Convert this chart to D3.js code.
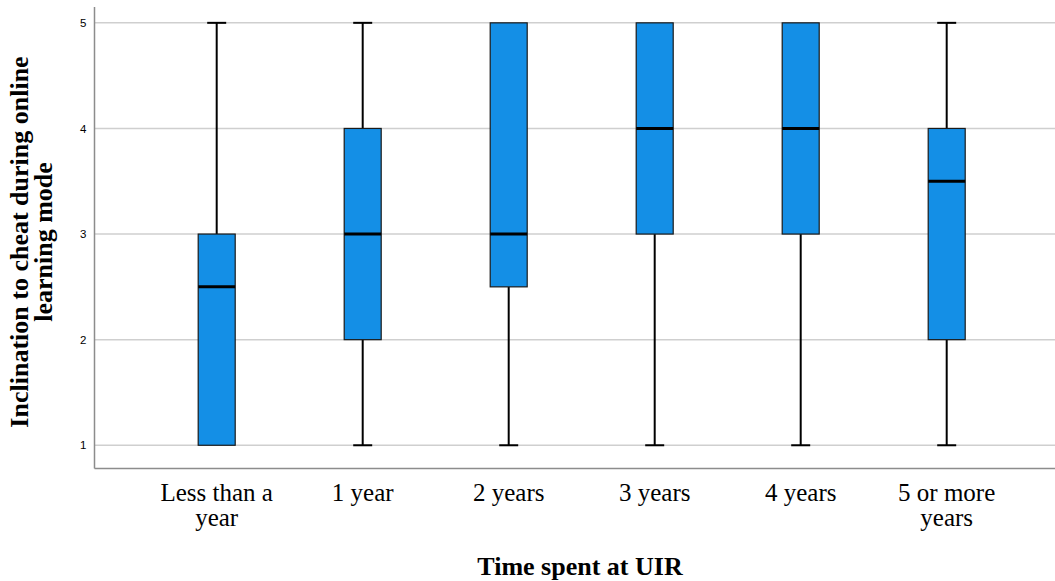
<!DOCTYPE html>
<html>
<head>
<meta charset="utf-8">
<script src="https://cdn.jsdelivr.net/npm/d3@7"></script>
<style>
  body { margin: 0; background: #fff; }
  .axisText { font-family: "Liberation Serif", "Times New Roman", serif; font-weight: bold; font-size: 26px; fill: #000; }
  .catText { font-family: "Liberation Serif", "Times New Roman", serif; font-size: 25px; fill: #000; }
  .tickText { font-family: "Liberation Sans", Arial, sans-serif; font-size: 11.5px; fill: #000; }
</style>
</head>
<body>
<div id="chart"></div>
<script>
var svgWidth = 1055;
var svgHeight = 581;

// box plot values
var categories = ["Less than a year", "1 year", "2 years", "3 years", "4 years", "5 or more years"];
var catLines = [["Less than a", "year"], ["1 year"], ["2 years"], ["3 years"], ["4 years"], ["5 or more", "years"]];
var mins    = [1, 1, 1,   1, 1, 1];
var q1s     = [1, 2, 2.5, 3, 3, 2];
var medians = [2.5, 3, 3, 4, 4, 3.5];
var q3s     = [3, 4, 5, 5, 5, 4];
var maxs    = [5, 5, 5, 5, 5, 5];
var yTicks = [1, 2, 3, 4, 5];

var data = categories.map(function(c, i) {
  return { cat: c, lines: catLines[i], min: mins[i], q1: q1s[i], med: medians[i], q3: q3s[i], max: maxs[i] };
});

var axisX = 94.5;
var axisY = 468.5;

var svg = d3.select("#chart")
  .append("svg")
  .attr("width", svgWidth)
  .attr("height", svgHeight);

var yScale = d3.scaleLinear()
  .domain([0.78, 5.15])
  .range([axisY, 7]);

var xScale = d3.scalePoint()
  .domain(categories)
  .range([216.7, 946.7]);

var boxW = 37;
var capW = 19;

// gridlines
svg.append("g")
  .selectAll("line")
  .data(yTicks)
  .enter()
  .append("line")
  .attr("x1", axisX)
  .attr("x2", svgWidth)
  .attr("y1", d => yScale(d))
  .attr("y2", d => yScale(d))
  .attr("stroke", "#cfcfcf")
  .attr("stroke-width", 1.5);

// y axis
var leftAxis = d3.axisLeft(yScale).tickValues(yTicks).tickSize(0).tickPadding(8).tickFormat(d3.format("d"));
var yAxisG = svg.append("g")
  .attr("transform", `translate(${axisX}, 0)`)
  .call(leftAxis);
yAxisG.select(".domain").remove();
yAxisG.selectAll("text").attr("class", "tickText").attr("font-family", null).attr("font-size", null);

svg.append("line")
  .attr("x1", axisX).attr("x2", axisX)
  .attr("y1", yScale.range()[1]).attr("y2", axisY)
  .attr("stroke", "#8c8c8c").attr("stroke-width", 1.5);
svg.append("line")
  .attr("x1", axisX).attr("x2", svgWidth)
  .attr("y1", axisY).attr("y2", axisY)
  .attr("stroke", "#8c8c8c").attr("stroke-width", 1.5);

var boxes = svg.append("g").selectAll("g")
  .data(data)
  .enter()
  .append("g");

// whiskers
boxes.filter(d => d.max > d.q3).append("line")
  .attr("x1", d => xScale(d.cat)).attr("x2", d => xScale(d.cat))
  .attr("y1", d => yScale(d.q3)).attr("y2", d => yScale(d.max))
  .attr("stroke", "#000").attr("stroke-width", 2);
boxes.filter(d => d.max > d.q3).append("line")
  .attr("x1", d => xScale(d.cat) - capW / 2).attr("x2", d => xScale(d.cat) + capW / 2)
  .attr("y1", d => yScale(d.max)).attr("y2", d => yScale(d.max))
  .attr("stroke", "#000").attr("stroke-width", 2);
boxes.filter(d => d.min < d.q1).append("line")
  .attr("x1", d => xScale(d.cat)).attr("x2", d => xScale(d.cat))
  .attr("y1", d => yScale(d.q1)).attr("y2", d => yScale(d.min))
  .attr("stroke", "#000").attr("stroke-width", 2);
boxes.filter(d => d.min < d.q1).append("line")
  .attr("x1", d => xScale(d.cat) - capW / 2).attr("x2", d => xScale(d.cat) + capW / 2)
  .attr("y1", d => yScale(d.min)).attr("y2", d => yScale(d.min))
  .attr("stroke", "#000").attr("stroke-width", 2);

// boxes
boxes.append("rect")
  .attr("x", d => xScale(d.cat) - boxW / 2)
  .attr("y", d => yScale(d.q3))
  .attr("width", boxW)
  .attr("height", d => yScale(d.q1) - yScale(d.q3))
  .attr("fill", "#148fe6")
  .attr("stroke", "#1a1a1a")
  .attr("stroke-width", 1.2);

// medians
boxes.append("line")
  .attr("x1", d => xScale(d.cat) - boxW / 2).attr("x2", d => xScale(d.cat) + boxW / 2)
  .attr("y1", d => yScale(d.med)).attr("y2", d => yScale(d.med))
  .attr("stroke", "#000").attr("stroke-width", 3);

// category labels
var catText = svg.append("g").selectAll("text")
  .data(data)
  .enter()
  .append("text")
  .attr("class", "catText")
  .attr("text-anchor", "middle")
  .attr("x", d => xScale(d.cat))
  .attr("y", 500.5);
catText.selectAll("tspan")
  .data(d => d.lines.map(l => ({ l: l, x: xScale(d.cat) })))
  .enter()
  .append("tspan")
  .attr("x", t => t.x)
  .attr("dy", (t, i) => i === 0 ? 0 : 25.5)
  .text(t => t.l);

// axis titles
svg.append("text")
  .attr("class", "axisText")
  .attr("text-anchor", "middle")
  .attr("x", 580)
  .attr("y", 575)
  .text("Time spent at UIR");

var yTitle = svg.append("text")
  .attr("class", "axisText")
  .attr("text-anchor", "middle")
  .attr("transform", "translate(28, 242) rotate(-90)");
yTitle.append("tspan").attr("x", 0).attr("y", 0).text("Inclination to cheat during online");
yTitle.append("tspan").attr("x", 0).attr("y", 24).text("learning mode");
</script>
</body>
</html>
